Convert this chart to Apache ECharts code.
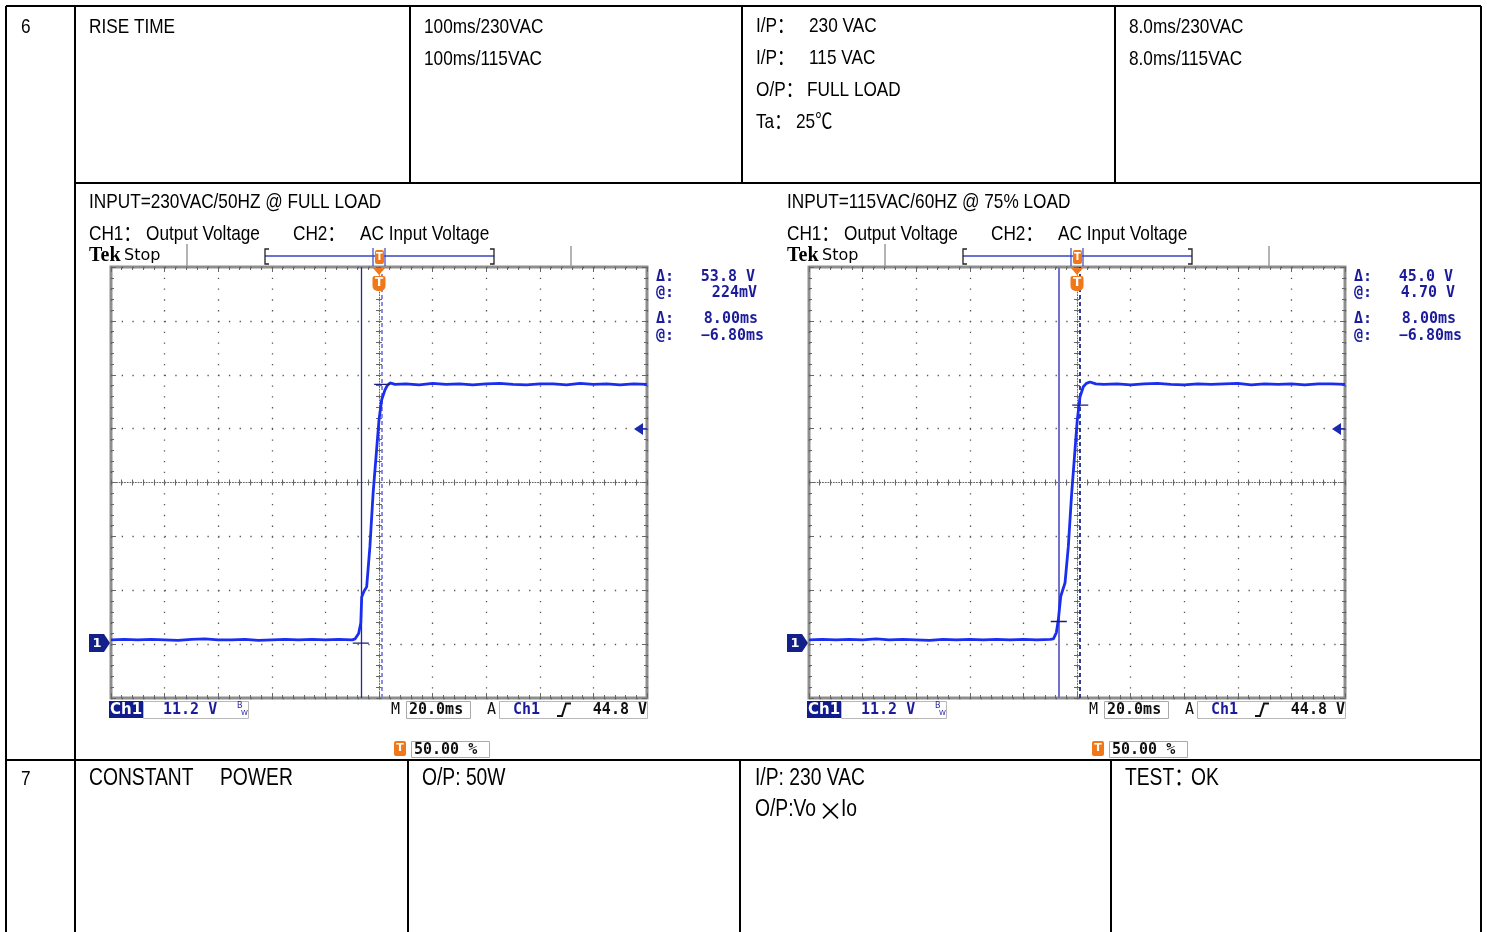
<!DOCTYPE html>
<html><head><meta charset="utf-8">
<script src="https://cdn.jsdelivr.net/npm/echarts@6/dist/echarts.min.js"></script>
<style>html,body{margin:0;padding:0;background:#fff}#c{width:1487px;height:932px}</style>
</head><body><div id="c"></div>
<script>
// ---------- data ----------
const timeRange = [-100, 100];      // ms, 20.0 ms/div, trigger at 50 %
const timePerDiv = 20;
const voltRange = [-11.2, 78.4];    // V, 11.2 V/div
const voltPerDiv = 11.2;

const wave1Time = [-100,-95,-90,-85,-80,-75,-70,-65,-60,-55,-50,-45,-40,-35,-30,-25,-20,-15,-10,-8.9,
  -7.6,-6.8,-6.45,-5.6,-4.6,-3.4,-2.2,-0.9,0,1.0,2.2,3.0,4.1,
  6,10,15,20,25,30,35,40,45,50,55,60,65,70,75,80,85,90,95,100];
const wave1Volt = [0.9,1.0,0.9,1.0,0.9,0.8,1.0,1.1,0.9,0.9,1.0,0.8,0.9,1.0,0.9,1.0,0.9,1.0,0.9,1.1,
  2.2,4.4,9.8,11.0,11.9,20.2,31.4,40.4,46.6,50.8,52.8,53.7,54.3,
  54.0,54.1,53.9,54.2,54.0,54.1,53.9,54.1,54.2,54.0,53.9,54.1,54.1,53.9,54.2,54.0,54.1,53.9,54.1,54.0];

const wave2Time = [-100,-95,-90,-85,-80,-75,-70,-65,-60,-55,-50,-45,-40,-35,-30,-25,-20,-15,-10,
  -8.8,-7.7,-6.98,-6.08,-5.3,-4.48,-3.25,-1.98,-0.75,0.1,1.12,2.35,3.5,4.85,
  7,10,15,20,25,30,35,40,45,50,55,60,65,70,75,80,85,90,95,100];
const wave2Volt = [0.9,1.0,0.9,1.0,0.9,1.1,0.9,1.0,0.9,0.8,1.0,0.9,1.0,0.9,1.0,0.9,1.0,0.9,1.0,
  1.1,2.4,5.0,9.9,11.3,12.7,20.2,31.4,40.4,46.6,51.4,53.5,54.2,54.5,
  54.1,54.0,54.1,53.9,54.1,54.2,54.0,53.9,54.1,54.0,54.1,54.2,53.9,54.1,54.0,54.1,53.9,54.1,54.1,54.0];

const cursorTime = [-6.8, 1.2];          // ms (delta 8.00 ms)
const cursorVolt1 = [0.224, 54.0];       // V  (delta 53.8 V)
const cursorVolt2 = [4.70, 49.7];        // V  (delta 45.0 V)
const trigLevel = 44.8;
const readouts1 = ['53.8 V', '224mV', '8.00ms', '\u22126.80ms'];
const readouts2 = ['45.0 V', '4.70 V', '8.00ms', '\u22126.80ms'];
const scopeTitles = ['INPUT=230VAC/50HZ @ FULL LOAD', 'INPUT=115VAC/60HZ @ 75% LOAD'];

// ---------- layout / style ----------
const TF = '21px "Liberation Sans",Arial,"Noto Sans CJK SC",sans-serif';
const TF7 = '23.5px "Liberation Sans",Arial,"Noto Sans CJK SC",sans-serif';
const NARROW = 0.82;
const MONO = '15px "DejaVu Sans Mono",monospace';
const MONOB = 'bold 15px "DejaVu Sans Mono",monospace';
const NAVY = '#1c1c9a';
const ORANGE = '#f07818';
const scopeDx = [0, 698];
const G = {left: 111, top: 267, width: 536, height: 431};

const chart = echarts.init(document.getElementById('c'), null, {renderer: 'canvas', width: 1487, height: 932});

function txt(text, x, y, font, fill, align, sx) {
  return {type: 'text', z: 100, silent: true, x: x, y: y, scaleX: sx || 1,
    style: {text: text, x: 0, y: 0, font: font, fill: fill || '#000', align: align || 'left', verticalAlign: 'middle'}};
}
function tt(text, x, y, f) { return txt(text, x, y, f || TF, '#000', 'left', NARROW); }
function ln(x1, y1, x2, y2, stroke, w, dash) {
  return {type: 'line', z: 100, silent: true, shape: {x1, y1, x2, y2},
    style: {stroke: stroke || '#000', lineWidth: w || 2, lineDash: dash || null}};
}
function rect(x, y, w, h, fill, stroke, r) {
  return {type: 'rect', z: 100, silent: true, shape: {x, y, width: w, height: h, r: r || 0},
    style: {fill: fill || 'none', stroke: stroke || null, lineWidth: 1}};
}
function poly(points, fill) {
  return {type: 'polygon', z: 100, silent: true, shape: {points}, style: {fill}};
}
function pline(points, stroke, w) {
  return {type: 'polyline', z: 100, silent: true, shape: {points}, style: {stroke, lineWidth: w || 1.2, fill: 'none'}};
}

// ---------- axes ----------
const xAxes = [], yAxes = [], grids = [], series = [];
scopeDx.forEach((dx, s) => {
  grids.push({left: G.left + dx, top: G.top, width: G.width, height: G.height, show: true,
    borderColor: '#8e8e8e', borderWidth: 3, backgroundColor: '#fff'});
  const tick = {show: true, inside: true, length: 5, lineStyle: {color: '#666', width: 1}};
  const mtick = {show: true, splitNumber: 5, length: 3, lineStyle: {color: '#666', width: 1}};
  const noLine = {show: false, onZero: false};
  const centerLine = {show: true, onZero: false, lineStyle: {color: '#666', width: 1, type: [1, 1.7]}};
  const bx = {gridIndex: s, type: 'value', min: timeRange[0], max: timeRange[1], interval: timePerDiv,
    axisLabel: {show: false}, axisLine: noLine, splitLine: {show: false}, axisTick: tick, minorTick: mtick,
    axisPointer: {show: false}};
  xAxes.push(
    Object.assign({}, bx, {position: 'bottom', splitLine: {show: true, lineStyle: {color: '#555', width: 1.3, type: [1.3, 9.475]}}}),
    Object.assign({}, bx, {position: 'top'}),
    Object.assign({}, bx, {position: 'bottom', offset: -G.height / 2, axisLine: centerLine,
      axisTick: Object.assign({}, tick, {length: 3})}),
    Object.assign({}, bx, {position: 'top', offset: -G.height / 2, axisTick: Object.assign({}, tick, {length: 3})})
  );
  const by = {gridIndex: s, type: 'value', min: voltRange[0], max: voltRange[1], interval: voltPerDiv,
    axisLabel: {show: false}, axisLine: noLine, splitLine: {show: false}, axisTick: tick, minorTick: mtick,
    axisPointer: {show: false}};
  yAxes.push(
    Object.assign({}, by, {position: 'left', splitLine: {show: true, lineStyle: {color: '#555', width: 1.3, type: [1.3, 9.42]}}}),
    Object.assign({}, by, {position: 'right'}),
    Object.assign({}, by, {position: 'left', offset: -G.width / 2, axisLine: centerLine,
      axisTick: Object.assign({}, tick, {length: 3})}),
    Object.assign({}, by, {position: 'right', offset: -G.width / 2, axisTick: Object.assign({}, tick, {length: 3})})
  );

  const wt = s === 0 ? wave1Time : wave2Time;
  const wv = s === 0 ? wave1Volt : wave2Volt;
  const cv = s === 0 ? cursorVolt1 : cursorVolt2;
  const solidC = s === 0 ? '#2626a6' : '#7272cc';
  const dashC = s === 0 ? '#8080e0' : '#1c2a8c';
  series.push({
    type: 'line', xAxisIndex: 4 * s, yAxisIndex: 4 * s, silent: true, animation: false, z: 5,
    showSymbol: false, symbol: 'none', smooth: false, data: wt.map((t, i) => [t, wv[i]]),
    lineStyle: {color: '#1a2ef0', width: 2.8},
    markLine: {silent: true, symbol: 'none', animation: false, label: {show: false}, emphasis: {disabled: true},
      data: [
        {xAxis: cursorTime[0], lineStyle: {color: solidC, width: s === 0 ? 1.3 : 2, type: 'solid'}},
        {xAxis: cursorTime[1], lineStyle: {color: dashC, width: 1.8, type: [4, 3]}}
      ]}
  });
  [0, 1].forEach(k => {
    series.push({type: 'line', xAxisIndex: 4 * s, yAxisIndex: 4 * s, silent: true, animation: false, z: 6,
      showSymbol: false, symbol: 'none',
      data: [[cursorTime[k] - 3, cv[k]], [cursorTime[k] + 3, cv[k]]],
      lineStyle: {color: '#1c1c7a', width: 1.3}});
  });
});

// ---------- table + readouts graphics ----------
const gr = [];
[[6, 6, 6, 932], [6, 6, 1481, 6], [1481, 6, 1481, 932], [75, 6, 75, 932],
 [410, 6, 410, 183], [742, 6, 742, 183], [1115, 6, 1115, 183], [75, 183, 1481, 183],
 [6, 760, 1481, 760], [408, 760, 408, 932], [740, 760, 740, 932], [1111, 760, 1111, 932]]
 .forEach(a => gr.push(ln(a[0], a[1], a[2], a[3], '#000', 2)));

// row 6 texts
gr.push(tt('6', 21, 27));
gr.push(tt('RISE TIME', 89, 27));
gr.push(tt('100ms/230VAC', 424, 27));
gr.push(tt('100ms/115VAC', 424, 59));
gr.push(tt('I/P\uFF1A', 756, 26)); gr.push(tt('230 VAC', 809, 26));
gr.push(tt('I/P\uFF1A', 756, 58)); gr.push(tt('115 VAC', 809, 58));
gr.push(tt('O/P\uFF1A', 756, 90)); gr.push(tt('FULL LOAD', 807, 90));
gr.push(tt('Ta\uFF1A', 756, 122)); gr.push(tt('25\u2103', 796, 122));
gr.push(tt('8.0ms/230VAC', 1129, 27));
gr.push(tt('8.0ms/115VAC', 1129, 59));
// row 7 texts
gr.push(tt('7', 21, 779));
gr.push(tt('CONSTANT', 89, 778.5, TF7)); gr.push(tt('POWER', 220, 778.5, TF7));
gr.push(tt('O/P: 50W', 422, 778.5, TF7));
gr.push(tt('I/P: 230 VAC', 755, 778.5, TF7));
gr.push(tt('O/P:Vo', 755, 810, TF7));
gr.push(txt('\u00D7', 818, 810, '25px "Noto Sans CJK SC",sans-serif'));
gr.push(tt('Io', 841, 810, TF7));
gr.push(tt('TEST\uFF1A', 1125, 778.5, TF7)); gr.push(tt('OK', 1191, 778.5, TF7));

scopeDx.forEach((dx, s) => {
  const ro = s === 0 ? readouts1 : readouts2;
  gr.push(tt(scopeTitles[s], 89 + dx, 202));
  gr.push(tt('CH1\uFF1A', 89 + dx, 234)); gr.push(tt('Output Voltage', 146 + dx, 234));
  gr.push(tt('CH2\uFF1A', 293 + dx, 234)); gr.push(tt('AC Input Voltage', 360 + dx, 234));
  // Tek header bar
  gr.push(txt('Tek', 89 + dx, 256, 'bold 20px "Liberation Serif","DejaVu Serif",serif'));
  gr.push(txt('Stop', 124 + dx, 256, '16px "DejaVu Sans",sans-serif'));
  gr.push(ln(187 + dx, 244, 187 + dx, 266, '#9a9a9a', 1.5));
  gr.push(ln(571 + dx, 246, 571 + dx, 266, '#9a9a9a', 1.5));
  gr.push(ln(265 + dx, 256, 494 + dx, 256, '#3a44c0', 1.3));
  gr.push(pline([[269 + dx, 249], [265 + dx, 249], [265 + dx, 264], [269 + dx, 264]], '#222', 1.3));
  gr.push(pline([[490 + dx, 249], [494 + dx, 249], [494 + dx, 264], [490 + dx, 264]], '#222', 1.3));
  gr.push(ln(373 + dx, 248, 373 + dx, 266, '#3a44c0', 1.2));
  gr.push(ln(385 + dx, 248, 385 + dx, 266, '#3a44c0', 1.2));
  gr.push(rect(375 + dx, 250, 9, 14, ORANGE, null, 2));
  gr.push(txt('T', 379.5 + dx, 257, 'bold 10px "DejaVu Sans",sans-serif', '#fff', 'center'));
  // trigger position marker
  gr.push(poly([[373 + dx, 268], [385 + dx, 268], [379 + dx, 275]], ORANGE));
  gr.push(rect(372.5 + dx, 276, 13, 15, ORANGE, null, [2, 2, 5, 5]));
  gr.push(txt('T', 379 + dx, 283, 'bold 12px "DejaVu Sans",sans-serif', '#fff', 'center'));
  // ground marker
  gr.push(poly([[89 + dx, 634], [104 + dx, 634], [110 + dx, 643], [104 + dx, 652], [89 + dx, 652]], '#14208a'));
  gr.push(txt('1', 97 + dx, 643.5, 'bold 13px "DejaVu Sans",sans-serif', '#fff', 'center'));
  // trigger level arrow
  gr.push(poly([[634 + dx, 429], [643 + dx, 423], [643 + dx, 435]], '#1a2ab0'));
  gr.push(ln(642 + dx, 429, 647 + dx, 429, '#1a2ab0', 1.5));
  // right readouts
  gr.push(txt('\u0394:', 656 + dx, 277, MONOB, NAVY)); gr.push(txt(ro[0], 755 + dx, 277, MONOB, NAVY, 'right'));
  gr.push(txt('@:', 656 + dx, 293, MONOB, NAVY)); gr.push(txt(ro[1], 757 + dx, 293, MONOB, NAVY, 'right'));
  gr.push(txt('\u0394:', 656 + dx, 319, MONOB, NAVY)); gr.push(txt(ro[2], 758 + dx, 319, MONOB, NAVY, 'right'));
  gr.push(txt('@:', 656 + dx, 336, MONOB, NAVY)); gr.push(txt(ro[3], 764 + dx, 336, MONOB, NAVY, 'right'));
  // bottom readouts
  gr.push(rect(109 + dx, 701, 34, 17, '#101c8c'));
  gr.push(txt('Ch1', 126 + dx, 710, 'bold 15px "DejaVu Sans",sans-serif', '#fff', 'center'));
  gr.push(rect(143.5 + dx, 701.5, 105, 17, null, '#b8b8b8'));
  gr.push(txt('11.2 V', 163 + dx, 710, MONOB, NAVY));
  gr.push(txt('B', 237 + dx, 706, '8px "DejaVu Sans",sans-serif', NAVY));
  gr.push(txt('W', 241 + dx, 713, '7px "DejaVu Sans",sans-serif', NAVY));
  gr.push(txt('M', 391 + dx, 710, MONO, '#111'));
  gr.push(rect(406.5 + dx, 701.5, 64, 17, null, '#aaaaaa'));
  gr.push(txt('20.0ms', 409 + dx, 710, MONOB, '#111'));
  gr.push(txt('A', 487 + dx, 710, MONO, '#111'));
  gr.push(rect(499.5 + dx, 701.5, 148, 17, null, '#b8b8b8'));
  gr.push(txt('Ch1', 513 + dx, 710, MONOB, NAVY));
  gr.push(pline([[557 + dx, 716], [562 + dx, 716], [566 + dx, 703.5], [571 + dx, 703.5]], '#111', 2));
  gr.push(txt(trigLevel.toFixed(1) + ' V', 647 + dx, 710, MONOB, '#111', 'right'));
  gr.push(rect(394 + dx, 741, 12, 15, ORANGE, null, 2));
  gr.push(txt('T', 400 + dx, 748.5, 'bold 11px "DejaVu Sans",sans-serif', '#fff', 'center'));
  gr.push(rect(411.5 + dx, 741.5, 78, 16, null, '#aaaaaa'));
  gr.push(txt('50.00 %', 414 + dx, 750, MONOB, '#111'));
});

chart.setOption({
  backgroundColor: '#fff',
  animation: false,
  grid: grids,
  xAxis: xAxes,
  yAxis: yAxes,
  series: series,
  graphic: {elements: gr}
});
</script>
</body></html>
